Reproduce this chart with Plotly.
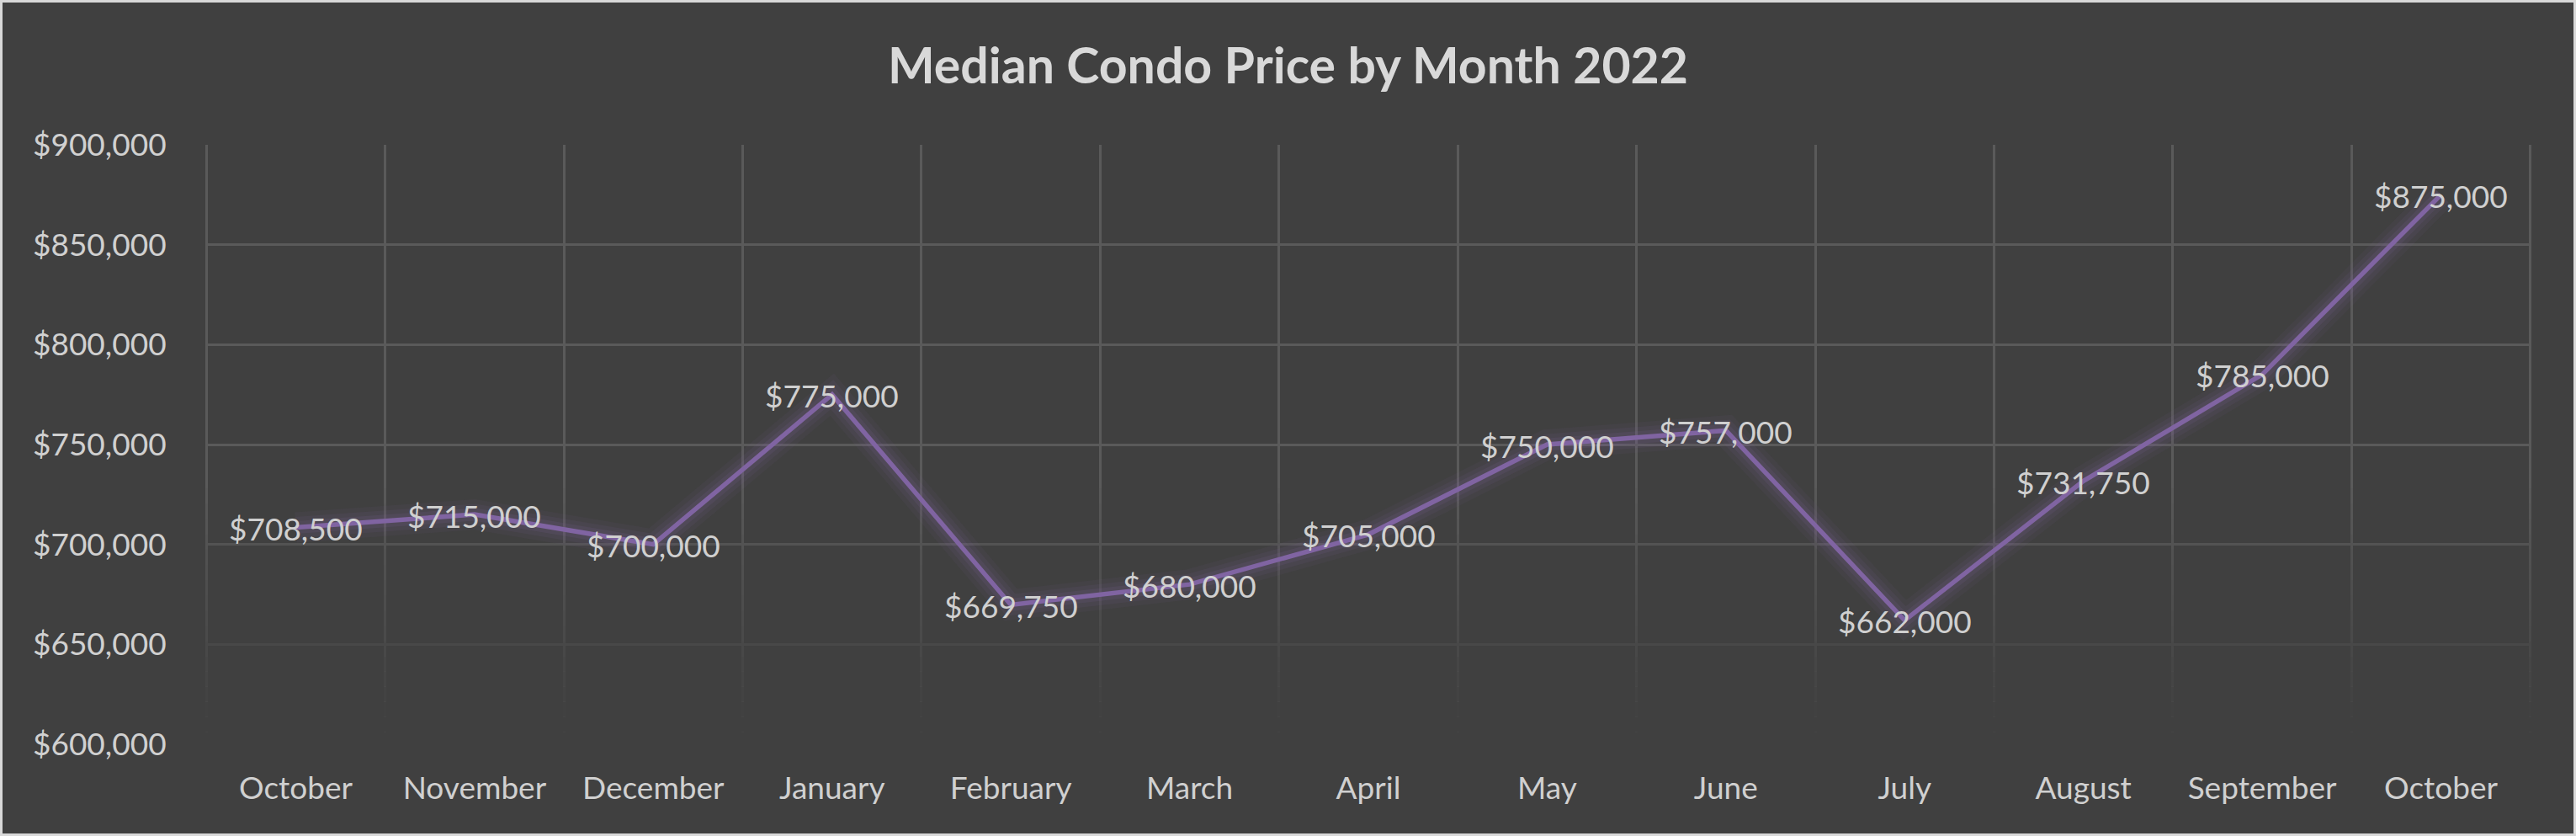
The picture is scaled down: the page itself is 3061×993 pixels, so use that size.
import plotly.graph_objects as go

# ---- data ----
months = ["October", "November", "December", "January", "February", "March",
          "April", "May", "June", "July", "August", "September", "October"]
prices = [708500, 715000, 700000, 775000, 669750, 680000,
          705000, 750000, 757000, 662000, 731750, 785000, 875000]
title_text = "Median Condo Price by Month 2022"
y_min, y_max, y_step = 600000, 900000, 50000

x_idx = list(range(len(months)))
x_lo, x_hi = -0.5, len(months) - 0.5
boundaries = [i - 0.5 for i in range(len(months) + 1)]

W, H = 3061, 993
ML, MR, MT, MB = 244, 53, 172, 109
PW, PH = W - ML - MR, H - MT - MB

BG = "#404040"
GRID = "#5a5a5a"
LINE = "#8064a2"
TXT = "#d0d0d0"
FONT = "Lato"

fig = go.Figure()

# fading overlay for the lower part of the plot area (above grid, below line)
n = 16
top, bot = 728000, 606000
for i in range(n):
    y1 = top - (top - bot) * i / n
    y0 = top - (top - bot) * (i + 1) / n
    a = min(1.0, (i + 1) / n)
    fig.add_trace(go.Scatter(
        x=[x_lo - 1, x_hi + 1, x_hi + 1, x_lo - 1], y=[y0, y0, y1, y1],
        mode="lines", fill="toself", line=dict(width=0),
        fillcolor=f"rgba(64,64,64,{a:.3f})",
        hoverinfo="skip", showlegend=False))
fig.add_trace(go.Scatter(
    x=[x_lo - 1, x_hi + 1, x_hi + 1, x_lo - 1],
    y=[y_min - 20000, y_min - 20000, bot, bot],
    mode="lines", fill="toself", line=dict(width=0), fillcolor=BG,
    hoverinfo="skip", showlegend=False))

# glow layers
for w, a in [(36, 0.07), (25, 0.09), (15, 0.13)]:
    fig.add_trace(go.Scatter(
        x=x_idx, y=prices, mode="lines",
        line=dict(color=f"rgba(128,100,162,{a})", width=w),
        hoverinfo="skip", showlegend=False))

fig.add_trace(go.Scatter(
    x=x_idx, y=prices, mode="lines",
    line=dict(color=LINE, width=5.5),
    hoverinfo="skip", showlegend=False))

# data labels, centred on the points
annotations = [
    dict(x=xi, y=v, xref="x", yref="y", text=f"${v:,.0f}", showarrow=False,
         xanchor="center", yanchor="middle", yshift=-1,
         font=dict(family=FONT, size=37, color=TXT))
    for xi, v in zip(x_idx, prices)
]

# outer border of the figure
shapes = [dict(type="rect", xref="paper", yref="paper",
               x0=-ML / PW, x1=1 + MR / PW, y0=-MB / PH, y1=1 + MT / PH,
               line=dict(color="#d9d9d9", width=6), fillcolor="rgba(0,0,0,0)",
               layer="above")]

fig.update_layout(
    width=W, height=H,
    margin=dict(l=ML, r=MR, t=MT, b=MB, pad=0),
    paper_bgcolor=BG, plot_bgcolor=BG,
    title=dict(text=f"<b>{title_text}</b>", x=0.5, xanchor="center",
               xref="container", yref="container", y=1 - 78 / H, yanchor="middle",
               font=dict(family=FONT, size=59, color="#d9d9d9")),
    shapes=shapes,
    annotations=annotations,
    showlegend=False,
    xaxis=dict(
        range=[x_lo - 0.006, x_hi + 0.006],
        tickmode="array", tickvals=x_idx, ticktext=months,
        showgrid=False, zeroline=False, showline=False,
        ticks="outside", ticklen=20, tickcolor="rgba(0,0,0,0)",
        tickfont=dict(family=FONT, size=37, color=TXT),
        minor=dict(tickmode="array", tickvals=boundaries, showgrid=True,
                   gridcolor=GRID, gridwidth=3, ticks=""),
        fixedrange=True),
    yaxis=dict(
        range=[y_min, y_max], tickmode="linear", tick0=y_min, dtick=y_step,
        tickformat="$,.0f",
        showgrid=True, gridcolor=GRID, gridwidth=3,
        zeroline=False, showline=False,
        ticks="outside", ticklen=38, tickcolor="rgba(0,0,0,0)",
        tickfont=dict(family=FONT, size=37, color=TXT),
        fixedrange=True),
)

fig.write_html("out.html")
